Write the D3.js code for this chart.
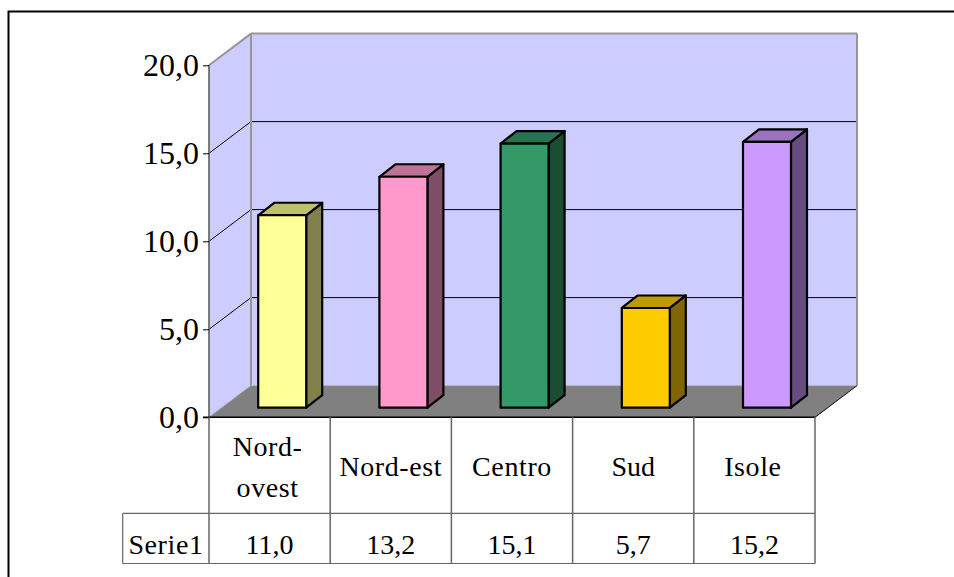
<!DOCTYPE html>
<html><head><meta charset="utf-8">
<script src="https://cdn.jsdelivr.net/npm/d3@7/dist/d3.min.js"></script>
<style>html,body{margin:0;padding:0;background:#fff}svg{display:block}text{font-family:"Liberation Serif",serif;fill:#000}</style>
</head><body><svg id="c" width="954" height="577"></svg>
<script>
const categories = ["Nord-ovest","Nord-est","Centro","Sud","Isole"];
const categoryLines = [["Nord-","ovest"],["Nord-est"],["Centro"],["Sud"],["Isole"]];
const seriesName = "Serie1";
const values = [11.0,13.2,15.1,5.7,15.2];
const yTicks = [0,5,10,15,20];
const frontColors = ["#FFFF99","#FF99CC","#339966","#FFCC00","#CC99FF"];
const topColors   = ["#BFBF73","#BF7399","#267350","#BF9900","#9973BF"];
const sideColors  = ["#80804D","#804D66","#1A4D33","#806600","#664D80"];

const W=954,H=577;
const svg=d3.select("#c");
const fmt=v=>d3.format(".1f")(v).replace(".",",");
const x0=209,x1=815,yZero=417.3,yTop=65.3, dx=42, dy=-31.7;
const rowA=513.4,rowB=563.5,tableLeft=122.7;
const barBase=407.7,barDX=16,barDY=-12.5,barShift=12.6,barScale=0.994;

const x=d3.scaleBand().domain(categories).range([x0,x1]).paddingInner(0.604).paddingOuter(0.302);
const y=d3.scaleLinear().domain([0,20]).range([yZero,yTop]);
const wallGray="#969696";
const poly=(pts,fill,stroke,sw)=>svg.append("polygon").attr("points",pts.map(p=>p.join(",")).join(" "))
  .attr("fill",fill).attr("stroke",stroke||"none").attr("stroke-width",sw||0).attr("stroke-linejoin","round");
const line=(a,b,c,w)=>svg.append("line").attr("x1",a[0]).attr("y1",a[1]).attr("x2",b[0]).attr("y2",b[1]).attr("stroke",c).attr("stroke-width",w);

// outer frame
svg.append("path").attr("d",`M8.5,${H} V11.5 H${W}`).attr("fill","none").attr("stroke","#000").attr("stroke-width",2);

// walls
poly([[x0+dx,y(20)+dy],[x1+dx,y(20)+dy],[x1+dx,y(0)+dy],[x0+dx,y(0)+dy]],"#CCCCFF");
poly([[x0,y(20)],[x0+dx,y(20)+dy],[x0+dx,y(0)+dy],[x0,y(0)]],"#CCCCFF");
// floor
poly([[x0,y(0)],[x1,y(0)],[x1+dx,y(0)+dy],[x0+dx,y(0)+dy]],"#808080");

// gridlines
yTicks.filter(t=>t>0&&t<20).forEach(t=>{
  line([x0,y(t)],[x0+dx,y(t)+dy],"#000",1);
  line([x0+dx,y(t)+dy],[x1+dx,y(t)+dy],"#000",1);
});
// wall edges
line([x0,y(20)],[x0+dx,y(20)+dy],wallGray,2);
line([x0+dx,y(20)+dy],[x1+dx,y(20)+dy],wallGray,2);
line([x1+dx,y(20)+dy],[x1+dx,y(0)+dy],wallGray,2);
line([x0+dx,y(20)+dy],[x0+dx,y(0)+dy],wallGray,2);
line([x0+dx,y(0)+dy],[x1+dx,y(0)+dy],"#b4b4b4",1);
line([x1,y(0)],[x1+dx,y(0)+dy],"#000",1);
line([x0,y(0)],[x0+dx,y(0)+dy],"#a0a0a0",1);

// bars
const h=v=>(y(0)-y(v))*barScale;
categories.forEach((c,i)=>{
  const l=x(c)+barShift,r=l+x.bandwidth(),b=barBase,t=b-h(values[i]);
  poly([[r,t],[r+barDX,t+barDY],[r+barDX,b+barDY],[r,b]],sideColors[i],"#000",2.2);
  poly([[l,t],[l+barDX,t+barDY],[r+barDX,t+barDY],[r,t]],topColors[i],"#000",2.2);
  poly([[l,t],[r,t],[r,b],[l,b]],frontColors[i],"#000",2.2);
});

// y axis
const ax=svg.append("g").attr("transform",`translate(${x0},0)`)
  .call(d3.axisLeft(y).tickValues(yTicks).tickFormat(fmt).tickSize(6).tickPadding(4));
ax.select(".domain").attr("stroke","#555").attr("stroke-width",1.5).attr("d",`M0,${y(20)}V${y(0)}`);
ax.selectAll(".tick line").attr("stroke","#000").attr("stroke-width",1);
ax.selectAll(".tick text").attr("font-size",32).attr("font-family",'"Liberation Serif",serif').attr("fill","#000").attr("dy","0.33em");
ax.attr("font-family",null);

// floor front edge (over axis)
line([x0-6,y(0)],[x1,y(0)],"#000",1.5);

// data table
const tg="#666";
const step=x.step();
d3.range(0,categories.length+1).forEach(i=>{
  line([x0+i*step,yZero],[x0+i*step,rowB],tg,1.5);
});
line([x0,rowA],[x1,rowA],tg,1.2);
line([tableLeft,rowA],[x0,rowA],tg,1.2);
line([tableLeft,rowB],[x1,rowB],tg,1.2);
line([tableLeft,rowA],[tableLeft,rowB],tg,1.2);

const tsize=28;
categories.forEach((c,i)=>{
  const cx=x0+(i+.5)*step - (i===0?2:0) - (i===4?1.5:0), ls=categoryLines[i];
  ls.forEach((s,j)=>{
    svg.append("text").attr("x",cx).attr("y",(ls.length===1?476:[456,497][j]))
      .attr("text-anchor","middle").attr("font-size",tsize).attr("letter-spacing",i===3?0:0.6).text(s);
  });
  svg.append("text").attr("x",x0+(i+.5)*step).attr("y",554).attr("text-anchor","middle").attr("font-size",tsize).text(fmt(values[i]));
});
svg.append("text").attr("x",166).attr("y",554).attr("text-anchor","middle").attr("font-size",tsize).attr("letter-spacing",0.6).text(seriesName);
</script></body></html>
